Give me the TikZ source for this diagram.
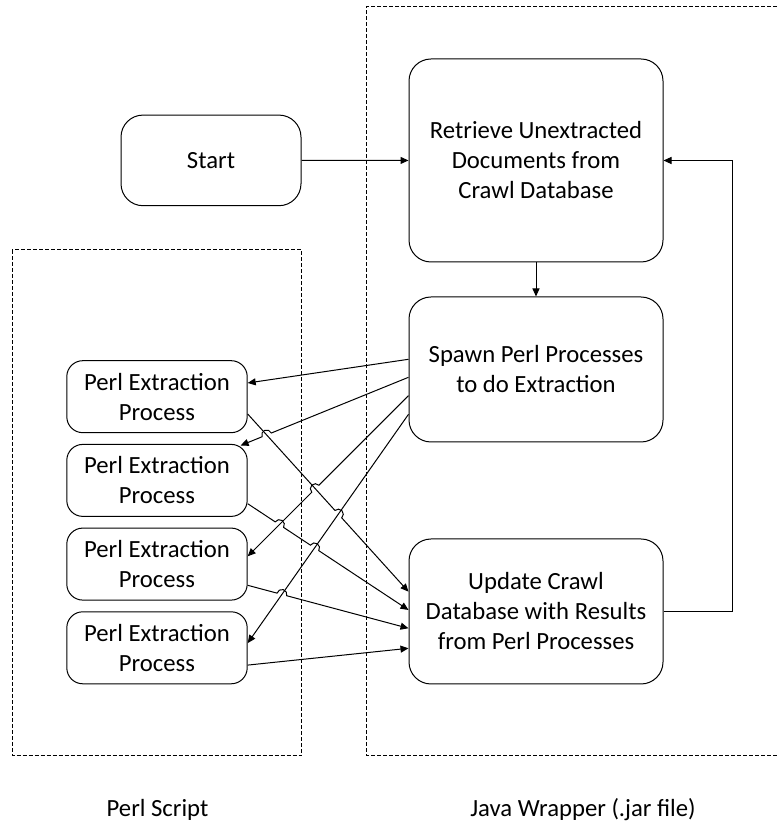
\documentclass[tikz,border=0pt]{standalone}
\usepackage{fontspec}
\setmainfont{Carlito}
\usetikzlibrary{arrows.meta,calc,intersections}

\begin{document}
\begin{tikzpicture}[x=0.5pt, y=0.5pt, line width=0.5pt,
  every node/.style={font=\fontsize{12.35}{15}\selectfont, align=center},
  box/.style={draw, rounded corners=11pt, minimum width=127pt},
  perlbox/.style={draw, rounded corners=8pt, minimum width=90.2pt, minimum height=36pt},
  conn/.style={-{Triangle[length=4pt,width=3.5pt]}},
  frame/.style={dash pattern=on 2pt off 1pt}]
  \useasboundingbox (0,0) rectangle (777,824);
  % groups
  \draw[frame] (12.3,574) rectangle (301.7,68.3);
  \draw[frame] (777,817.3) -- (366.5,817.3) -- (366.5,68.3) -- (777,68.3);
  \node[anchor=base] (perllbl) at (157.5,7) {Perl Script};
  \node[anchor=base] (javalbl) at (583,7) {Java Wrapper (.jar file)};
  % java side
  \node[box, minimum width=90pt, minimum height=45.3pt] (start) at (211,663.6) {Start};
  \node[box, minimum height=101.5pt] (ret) at (536,663.5) {Retrieve Unextracted\\Documents from\\Crawl Database};
  \node[box, minimum height=72.5pt] (spawn) at (536,454.5) {Spawn Perl Processes\\to do Extraction};
  \node[box, minimum height=72.5pt] (upd) at (536,212.5) {Update Crawl\\Database with Results\\from Perl Processes};
  % perl side
  \foreach \i/\yy in {1/427.3, 2/343.6, 3/259.9, 4/176.2}
    \node[perlbox] (pe\i) at (157,\yy) {Perl Extraction\\Process};
  \draw[conn] (start) -- (ret);
  \draw[conn] (ret) -- (spawn);
  \draw[conn] (upd.east) -- ++(68.7,0) |- (ret.east);
  % connection points
  \coordinate (s1a) at ([yshift=5.1pt]spawn.west);
  \coordinate (s2a) at ([yshift=-3.9pt]spawn.west);
  \coordinate (s3a) at ([yshift=-13.1pt]spawn.west);
  \coordinate (s4a) at ([yshift=-22.4pt]spawn.west);
  \coordinate (s1b) at ([yshift=6.85pt]pe1.east);
  \coordinate (s2b) at ($(pe2.north east)+(-7.1,-1.6)$);
  \coordinate (s3b) at ([yshift=3.9pt]pe3.east);
  \coordinate (s4b) at ([yshift=2.35pt]pe4.east);
  \coordinate (p1a) at ([yshift=-8.65pt]pe1.east);
  \coordinate (p2a) at ([yshift=-11.65pt]pe2.east);
  \coordinate (p3a) at ([yshift=-10.6pt]pe3.east);
  \coordinate (p4a) at ([yshift=-8.65pt]pe4.east);
  \coordinate (p1b) at ([yshift=9.9pt]upd.west);
  \coordinate (p2b) at ([yshift=0.75pt]upd.west);
  \coordinate (p3b) at ([yshift=-8.4pt]upd.west);
  \coordinate (p4b) at ([yshift=-18.4pt]upd.west);
  % crossings
  \path[name path=lp1] (p1a) -- (p1b);
  \path[name path=lp2] (p2a) -- (p2b);
  \path[name path=lp3] (p3a) -- (p3b);
  \path[name path=ls2] (s2a) -- (s2b);
  \path[name path=ls3] (s3a) -- (s3b);
  \path[name path=ls4] (s4a) -- (s4b);
  \path[name intersections={of=ls2 and lp1, by=h21}];
  \path[name intersections={of=ls3 and lp1, by=h31}];
  \path[name intersections={of=lp2 and ls3, by=h23}];
  \path[name intersections={of=lp2 and ls4, by=h24}];
  \path[name intersections={of=lp1 and ls4, by=h14}];
  \path[name intersections={of=lp3 and ls4, by=h34}];
  % spawn -> perl
  \draw[conn] (s1a) -- (s1b);
  \draw[conn] (s2a) -- ($(h21)!2.5pt!(s2a)$) arc[start angle=22.1, delta angle=180, radius=2.5pt] -- (s2b);
  \draw[conn] (s3a) -- ($(h31)!2.5pt!(s3a)$) arc[start angle=44.7, delta angle=180, radius=2.5pt] -- (s3b);
  \draw[conn] (s4a) -- (s4b);
  % perl -> update
  \draw[conn] (p1a) -- ($(h14)!2.5pt!(p1a)$) arc[start angle=132.4, delta angle=-180, radius=2.5pt] -- (p1b);
  \draw[conn] (p2a) -- ($(h23)!2.5pt!(p2a)$) arc[start angle=146.6, delta angle=-180, radius=2.5pt]
    -- ($(h24)!2.5pt!(p2a)$) arc[start angle=146.6, delta angle=-180, radius=2.5pt] -- (p2b);
  \draw[conn] (p3a) -- ($(h34)!2.5pt!(p3a)$) arc[start angle=165, delta angle=-180, radius=2.5pt] -- (p3b);
  \draw[conn] (p4a) -- (p4b);
\end{tikzpicture}
\end{document}
